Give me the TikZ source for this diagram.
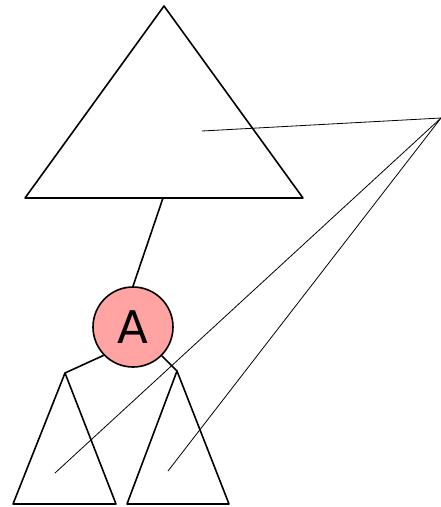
\documentclass[tikz,border=0pt]{standalone}
\usepackage{fontspec}
\setmainfont{DejaVu Sans}
\definecolor{nodepink}{RGB}{255,163,163}

\begin{document}
\begin{tikzpicture}[x=1pt,y=-1pt,
  tri/.style={black,line width=1.6pt,line join=round},
  edge/.style={black,line width=1.6pt},
  pointer/.style={black,line width=0.8pt}]
\useasboundingbox (0,0) rectangle (441,507);
% subtree above
\draw[tri] (164,6) coordinate (top) -- (303,198) -- (25,198) -- cycle;
\coordinate (topbase) at (163,198);
% node A
\node[circle,draw,line width=1.6pt,fill=nodepink,minimum size=80pt,inner sep=0pt,
  font=\fontsize{45}{54}\selectfont] (A) at (133,327) {A};
% subtrees below
\draw[tri] (65,373) coordinate (left) -- (116,504) -- (13,504) -- cycle;
\draw[tri] (177,371) coordinate (right) -- (229,504) -- (127,504) -- cycle;
\draw[edge] (topbase) -- (A.north);
\draw[edge] (A.-136) -- (left);
\draw[edge] (A.-45) -- (right);
% pointers
\coordinate (src) at (441,118);
\coordinate (p1) at (202,131);
\coordinate (p2) at (55,473);
\coordinate (p3) at (168,471);
\draw[pointer] (src) -- (p1);
\draw[pointer] (src) -- (p2);
\draw[pointer] (src) -- (p3);
\end{tikzpicture}
\end{document}
